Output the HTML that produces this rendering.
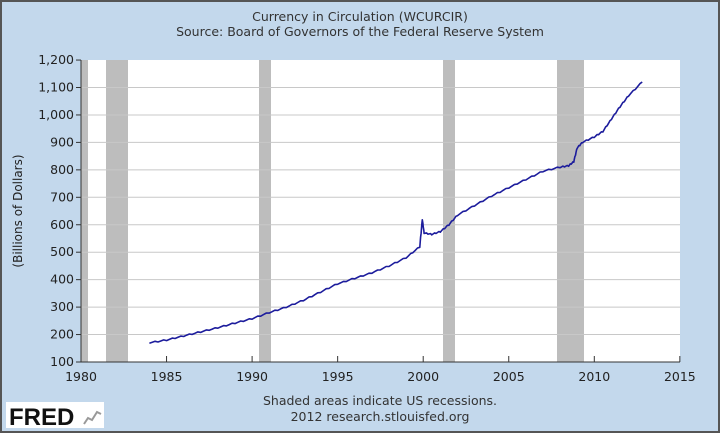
<!DOCTYPE html>
<html><head><meta charset="utf-8"><style>
html,body{margin:0;padding:0;width:720px;height:433px;overflow:hidden;background:#fff}
svg{display:block;font-family:"DejaVu Sans","Liberation Sans",sans-serif}
</style></head><body>
<svg id="s" width="720" height="433" xmlns="http://www.w3.org/2000/svg">
<rect x="1" y="1" width="718" height="431" fill="#c3d8ec" stroke="#555" stroke-width="2"/>
<text x="360" y="21" font-size="12.5" fill="#333" text-anchor="middle">Currency in Circulation (WCURCIR)</text>
<text x="360" y="36" font-size="12.5" fill="#333" text-anchor="middle">Source: Board of Governors of the Federal Reserve System</text>
<rect x="81" y="60" width="599" height="302" fill="#fff"/>
<g id="rec" fill="#bdbdbd">
<rect x="81" y="60" width="7" height="302"/>
<rect x="106" y="60" width="22" height="302"/>
<rect x="259" y="60" width="12" height="302"/>
<rect x="443" y="60" width="12" height="302"/>
<rect x="557" y="60" width="27" height="302"/>
</g>
<g id="grid" stroke="#c8c8c8" stroke-width="1"></g>
<g id="ax" stroke="#333" stroke-width="1"></g>
<g id="lab" font-size="12.5" fill="#222"></g>
<polyline id="ln" fill="none" stroke="#1c1c9c" stroke-width="1.6" stroke-linejoin="round"/>
<text x="22" y="211" font-size="12" fill="#222" text-anchor="middle" transform="rotate(-90 22 211)">(Billions of Dollars)</text>
<text x="380" y="405" font-size="12.5" fill="#333" text-anchor="middle">Shaded areas indicate US recessions.</text>
<text x="380" y="421" font-size="12.5" fill="#333" text-anchor="middle">2012 research.stlouisfed.org</text>
<rect x="6" y="402" width="98" height="26" fill="#fff"/>
<text x="9" y="425" font-size="24" font-weight="bold" fill="#111" font-family="Liberation Sans,sans-serif">FRED</text>
<polyline points="84,424 88,418 92,420 97,412 101,414" fill="none" stroke="#999" stroke-width="2"/>
</svg>
<script>
var X=y=>81+(y-1980)*17.11, Y=v=>362-(v-100)*0.2745, ns="http://www.w3.org/2000/svg";
function el(p,t,a,txt){var e=document.createElementNS(ns,t);for(var k in a)e.setAttribute(k,a[k]);if(txt)e.textContent=txt;document.getElementById(p).appendChild(e);}
for(var v=100;v<=1200;v+=100){var yy=Y(v);if(v>100&&v<1200)el("grid","line",{x1:81,x2:680,y1:yy,y2:yy});
el("ax","line",{x1:76,x2:81,y1:yy,y2:yy});el("lab","text",{x:74,y:yy+4,"text-anchor":"end"},v>=1000?"1,"+String(v-1000).padStart(3,"0"):v);}
el("ax","line",{x1:81,x2:81,y1:60,y2:362});el("ax","line",{x1:81,x2:680,y1:362,y2:362});
for(var yr=1980;yr<=2015;yr+=5){var xx=X(yr);el("ax","line",{x1:xx,x2:xx,y1:356,y2:362});el("lab","text",{x:xx,y:381,"text-anchor":"middle"},yr);}
var d=[[1984,170],[1985,180],[1986,195],[1987,210],[1988,225],[1989,242],[1990,258],[1991,280],[1992,300],[1993,325],[1994,355],[1995,385],[1996,405],[1997,425],[1998,450],[1999,480],[1999.8,520],[1999.95,620],[2000.05,570],[2000.5,565],[2001,575],[2001.5,600],[2002,635],[2003,670],[2004,705],[2005,735],[2006,765],[2007,795],[2008,810],[2008.5,815],[2008.8,830],[2009,880],[2009.3,900],[2010,920],[2010.5,940],[2011,985],[2011.5,1030],[2012,1070],[2012.8,1120]];
var pts=[];for(var i=0;i<d.length-1;i++){for(var j=0;j<6;j++){var t=j/6,yr=d[i][0]+(d[i+1][0]-d[i][0])*t,v=d[i][1]+(d[i+1][1]-d[i][1])*t+((i*6+j)%3-1)*2;pts.push(X(yr).toFixed(1)+","+Y(v).toFixed(1));}}
pts.push(X(2012.8)+","+Y(1120));document.getElementById("ln").setAttribute("points",pts.join(" "));
</script>
</body></html>
